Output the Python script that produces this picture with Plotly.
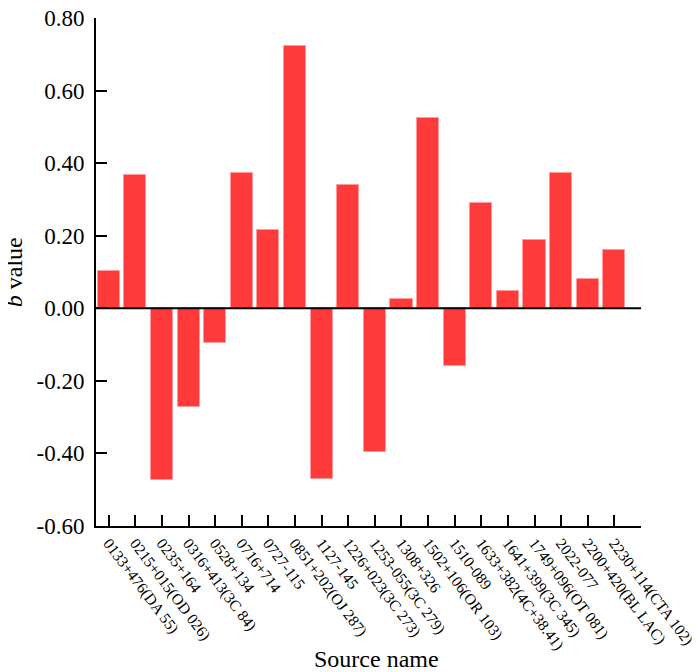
import plotly.graph_objects as go

sources = [
    "0133+476(DA 55)", "0215+015(OD 026)", "0235+164", "0316+413(3C 84)",
    "0528+134", "0716+714", "0727-115", "0851+202(OJ 287)", "1127-145",
    "1226+023(3C 273)", "1253-055(3C 279)", "1308+326", "1502+106(OR 103)",
    "1510-089", "1633+382(4C+38.41)", "1641+399(3C 345)", "1749+096(OT 081)",
    "2022-077", "2200+420(BL LAC)", "2230+114(CTA 102)",
]
b_values = [
    0.103, 0.367, -0.473, -0.272, -0.095, 0.373, 0.215, 0.722, -0.470, 0.341,
    -0.396, 0.025, 0.524, -0.158, 0.291, 0.048, 0.188, 0.372, 0.080, 0.160,
]
y_ticks = [-0.60, -0.40, -0.20, 0.00, 0.20, 0.40, 0.60, 0.80]
y_tick_labels = ["-0.60", "-0.40", "-0.20", "0.00", "0.20", "0.40", "0.60", "0.80"]

FONT = "Liberation Serif"
idx = list(range(len(sources)))

fig = go.Figure()
fig.add_trace(go.Bar(
    x=idx, y=b_values, width=0.83,
    marker=dict(color="#FF3A3A", line=dict(color="#FF9A9A", width=1)),
    showlegend=False,
))

fig.add_shape(type="line", xref="paper", yref="y", x0=0, x1=1, y0=0, y1=0,
              line=dict(color="black", width=2), layer="above")

fig.update_layout(
    width=692, height=664,
    margin=dict(l=88, r=59, t=10, b=146, autoexpand=False),
    paper_bgcolor="white", plot_bgcolor="white",
    font=dict(family=FONT, color="black"),
    bargap=0,
)
fig.update_xaxes(
    range=[-0.477, 20.0],
    tickvals=idx + [len(sources)], ticktext=sources + [""],
    tickangle=53, tickfont=dict(size=15.5, family=FONT, color="black"),
    ticklabeloverflow="allow",
    ticks="inside", ticklen=11, tickwidth=2, tickcolor="black",
    showline=True, linecolor="black", linewidth=2,
    showgrid=False, zeroline=False, automargin=False,
)
fig.update_yaxes(
    range=[-0.6, 0.8],
    tickvals=y_ticks, ticktext=y_tick_labels,
    tickfont=dict(size=23, family=FONT, color="black"),
    ticklabeloverflow="allow", ticklabelstandoff=5,
    ticks="inside", ticklen=11, tickwidth=2, tickcolor="black",
    showline=True, linecolor="black", linewidth=2,
    showgrid=False, zeroline=False, automargin=False,
)
fig.add_annotation(text="Source name", xref="paper", yref="paper",
                   x=0.514, y=-0.261, xanchor="center", yanchor="middle",
                   showarrow=False, font=dict(size=24, family=FONT, color="black"))
fig.add_annotation(text="<i>b</i> value", xref="paper", yref="paper",
                   x=-0.150, y=0.5, xanchor="center", yanchor="middle",
                   textangle=-90, showarrow=False, font=dict(size=24, family=FONT, color="black"))

fig.write_html("out.html")
